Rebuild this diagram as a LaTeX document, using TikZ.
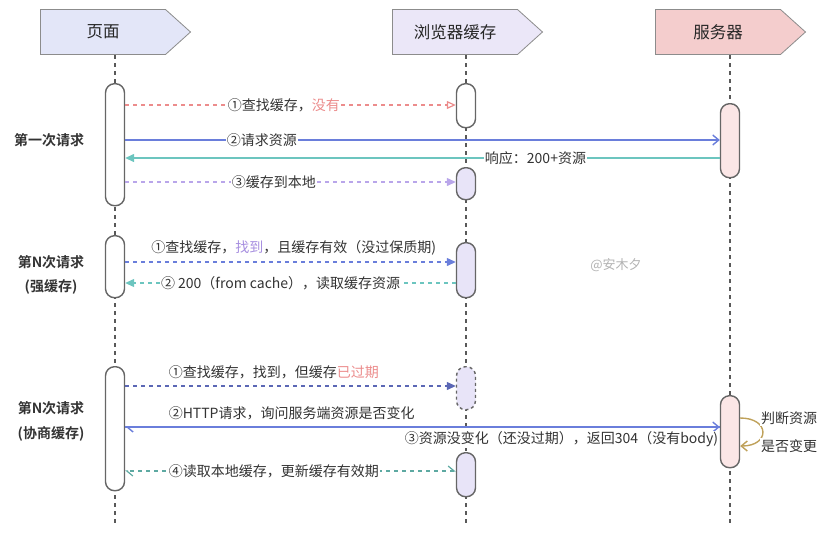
\documentclass[tikz,border=0pt]{standalone}
\usepackage{fontspec}
\setmainfont{Noto Sans CJK SC}[BoldFont={Noto Sans CJK SC Bold}]
\usepackage{xcolor}
\usetikzlibrary{shapes.symbols,arrows.meta,calc}
\definecolor{txt}{HTML}{333333}
\definecolor{hdpage}{HTML}{E3E6F8}
\definecolor{hdcache}{HTML}{EBE7F8}
\definecolor{hdserver}{HTML}{F4CDCD}
\definecolor{lav}{HTML}{E8E4F8}
\definecolor{pinkbar}{HTML}{FBE6E6}
\definecolor{redc}{HTML}{EC8C8C}
\definecolor{bluec}{HTML}{6A7EDB}
\definecolor{tealc}{HTML}{6CC5BF}
\definecolor{lavc}{HTML}{B9A6EA}
\definecolor{purpc}{HTML}{A78FE0}
\definecolor{navyc}{HTML}{5B67B5}
\definecolor{greenc}{HTML}{5DA9A2}
\definecolor{goldc}{HTML}{BFA15A}
\tikzstyle{header} = [signal, signal to=east, signal pointer angle=84, minimum width=150, minimum height=45, draw=black!45, line width=0.8, text=black!85, font=\fontsize{16.5}{18}\selectfont]
\tikzstyle{lifeline} = [draw=black!65, line width=1.5, dash pattern=on 4 off 4]
\tikzstyle{actbar} = [rectangle, draw=black!60, line width=1.4, rounded corners=9, minimum width=19, inner sep=0, anchor=north, fill=lav]
\tikzstyle{msg} = [fill=white, inner sep=1, text=txt, font=\fontsize{14}{16}\selectfont]
\tikzstyle{side} = [text=txt, font=\bfseries\fontsize{14}{16}\selectfont]
\tikzstyle{tri} = [-{Triangle[length=9,width=8]}]
\tikzstyle{barb} = [-{Straight Barb[length=6,width=10]}]
\begin{document}
\begin{tikzpicture}[x=1pt, y=-1pt]
      \useasboundingbox (0,0) rectangle (835,539);
      % heads
      \node (page)[header, fill=hdpage] at (103,32) {页面};
      \node (cache)[header, fill=hdcache] at (455,32) {浏览器缓存};
      \node (server)[header, fill=hdserver] at (718,32) {服务器};
      \coordinate (lpage) at (115,55);
      \coordinate (lcache) at (466,55);
      \coordinate (lserver) at (730,55);
      \coordinate (bottom) at (0,525);
      \draw [lifeline](lpage)--(lpage |- bottom);
      \draw [lifeline](lcache)--(lcache |- bottom);
      \draw [lifeline](lserver)--(lserver |- bottom);
      % activation bars
      \node (pg1)[actbar, fill=white, minimum height=122] at (115,83) {};
      \node (pg2)[actbar, fill=white, minimum height=62] at (115,235) {};
      \node (pg3)[actbar, fill=white, minimum height=124] at (115,366) {};
      \node (bc1)[actbar, fill=white, minimum height=44] at (466,83) {};
      \node (bc2)[actbar, minimum height=32] at (466,167) {};
      \node (bc3)[actbar, minimum height=55] at (466,242) {};
      \node (bc4)[actbar, dashed, minimum height=43] at (466,366) {};
      \node (bc5)[actbar, minimum height=44] at (466,452) {};
      \node (sv1)[actbar, fill=pinkbar, minimum height=74] at (730,103) {};
      \node (sv2)[actbar, fill=pinkbar, minimum height=72] at (730,395) {};
      % rows
      \coordinate (r1) at (0,105);
      \coordinate (r2) at (0,140);
      \coordinate (r3) at (0,158);
      \coordinate (r4) at (0,182);
      \coordinate (r5) at (0,262);
      \coordinate (r6) at (0,283);
      \coordinate (r7) at (0,386);
      \coordinate (r8) at (0,427);
      \coordinate (r9) at (0,471);
      \coordinate (la) at (0,418);
      \coordinate (lb) at (0,446);
      % first request
      \node (s1)[side] at (49,140) {第一次请求};
      \draw [redc, line width=1.2, dash pattern=on 4 off 4, -{Triangle[open,length=9,width=8,fill=white]}](pg1.east |- r1)--(bc1.west |- r1) node[msg, pos=0.48] {①查找缓存，\textcolor{redc}{没有}};
      \draw [bluec, line width=1.4, barb](pg1.east |- r2)--(sv1.west |- r2) node[msg, pos=0.23] {②请求资源};
      \draw [tealc, line width=1.4, tri](sv1.west |- r3)--(pg1.east |- r3) node[msg, pos=0.31] {响应：200+资源};
      \draw [lavc, line width=1.2, dash pattern=on 4 off 4, tri](pg1.east |- r4)--(bc2.west |- r4) node[msg, pos=0.45] {③缓存到本地};
      % strong cache
      \node (s2)[side] at (51,262) {第N次请求};
      \node (s3)[side] at (51,287) {(强缓存)};
      \draw [bluec, line width=1.2, dash pattern=on 4 off 4, tri](pg2.east |- r5)--(bc3.west |- r5) node[msg, pos=0.51, above=5pt] {①查找缓存，\textcolor{purpc}{找到}，且缓存有效（没过保质期)};
      \draw [tealc, line width=1.2, dash pattern=on 4 off 4, tri](bc3.west |- r6)--(pg2.east |- r6) node[msg, pos=0.53] {② 200（from cache），读取缓存资源};
      % negotiated cache
      \node (s4)[side] at (51,408) {第N次请求};
      \node (s5)[side] at (51,434) {(协商缓存)};
      \draw [navyc, line width=1.2, dash pattern=on 4 off 4, tri](pg3.east |- r7)--(bc4.west |- r7) node[msg, pos=0.45, above=5pt] {①查找缓存，找到，但缓存\textcolor{redc}{已过期}};
      \draw [bluec, line width=1.4, barb](pg3.east |- r8)--(sv2.west |- r8) node[msg, pos=0.28, above=5pt] {②HTTP请求，询问服务端资源是否变化};
      \draw [bluec, line width=1.4, -{Straight Barb[left,length=6,width=10]}](sv2.west |- r8)--(pg3.east |- r8) node[msg, pos=0, anchor=north east, yshift=-3pt] {③资源没变化（还没过期），返回304（没有body)};
      \draw [goldc, line width=1.4, barb](sv2.east |- la) .. controls +(30,0) and +(30,0) .. (sv2.east |- lb);
      \node (judge)[msg, anchor=west] at (760,418) {判断资源};
      \node (judge2)[msg, anchor=west] at (760,446) {是否变更};
      \draw [greenc, line width=1.2, dash pattern=on 4 off 4, {Straight Barb[left,length=6,width=10]}-{Straight Barb[left,length=6,width=10]}](bc5.west |- r9)--(pg3.east |- r9) node[msg, pos=0.55] {④读取本地缓存，更新缓存有效期};
      % mark
      \node (mark)[text=black!30, font=\fontsize{13}{15}\selectfont] at (616,265) {@安木夕};
    \end{tikzpicture}
\end{document}
